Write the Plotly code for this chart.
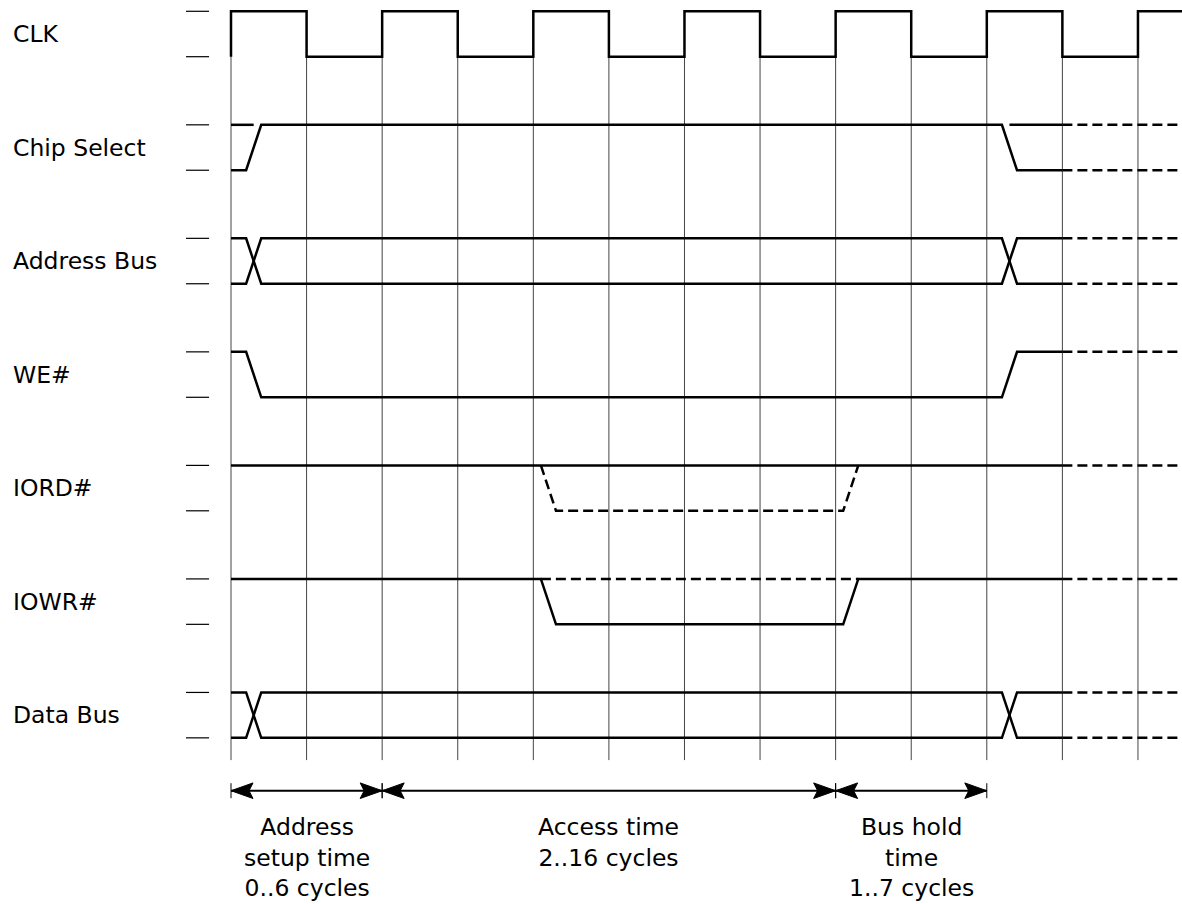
import plotly.graph_objects as go

# ---------------- data ----------------
signal_names = ["CLK", "Chip Select", "Address Bus", "WE#", "IORD#", "IOWR#", "Data Bus"]
ROW_GAP = 2.5          # vertical distance between signal rows (in level units)
T_END = 12.7           # diagram continues past the right edge

# CLK: level at each half-period boundary t = 0..12
clk_t = list(range(13))
clk_levels = [1, 0, 1, 0, 1, 0, 1, 0, 1, 0, 1, 0, 1]

# solid / dashed waveform pieces: (row, times, levels)
solid_pieces = [
    (1, [0, 0.2, 0.4, 10.2, 10.4, 11], [0, 0, 1, 1, 0, 0]),
    (1, [0, 0.3], [1, 1]),
    (1, [10.3, 11], [1, 1]),
    (2, [0, 0.2, 0.4, 10.2, 10.4, 11], [1, 1, 0, 0, 1, 1]),
    (2, [0, 0.2, 0.4, 10.2, 10.4, 11], [0, 0, 1, 1, 0, 0]),
    (3, [0, 0.2, 0.4, 10.2, 10.4, 11], [1, 1, 0, 0, 1, 1]),
    (4, [0, 11], [1, 1]),
    (5, [0, 4.1, 4.3, 8.1, 8.3, 11], [1, 1, 0, 0, 1, 1]),
    (6, [0, 0.2, 0.4, 10.2, 10.4, 11], [1, 1, 0, 0, 1, 1]),
    (6, [0, 0.2, 0.4, 10.2, 10.4, 11], [0, 0, 1, 1, 0, 0]),
]
dashed_pieces = [
    (1, [11, T_END], [1, 1]),
    (1, [11, T_END], [0, 0]),
    (2, [11, T_END], [1, 1]),
    (2, [11, T_END], [0, 0]),
    (3, [11, T_END], [1, 1]),
    (4, [4.1, 4.3, 8.1, 8.3], [1, 0, 0, 1]),
    (4, [11, T_END], [1, 1]),
    (5, [4.1, 8.3], [1, 1]),
    (5, [11, T_END], [1, 1]),
    (6, [11, T_END], [1, 1]),
    (6, [11, T_END], [0, 0]),
]

grid_t = list(range(13))

# timing spans (half-clock units) and their captions
span_start = [0, 2, 8]
span_end = [2, 8, 10]
span_labels = ["Address<br>setup time<br>0..6 cycles",
               "Access time<br>2..16 cycles",
               "Bus hold<br>time<br>1..7 cycles"]

# ---------------- geometry helpers ----------------
W, H = 1182, 904
X0 = 231.0     # pixel x of t = 0
Y0 = 56.7      # pixel y of level 0 in first row
PX_T = 75.58   # pixels per half-period
PX_Y = 45.41   # pixels per level unit


def ylev(row, level):
    return -row * ROW_GAP + level


def join(pieces):
    xs, ys = [], []
    for row, ts, lv in pieces:
        xs += list(ts) + [None]
        ys += [ylev(row, v) for v in lv] + [None]
    return xs, ys


fig = go.Figure()

# vertical grid
GRID_BOTTOM = -15.49
gx, gy = [], []
for t in grid_t:
    gx += [t, t, None]
    gy += [1, GRID_BOTTOM, None]
fig.add_trace(go.Scatter(x=gx, y=gy, mode="lines",
                         line=dict(color="#444444", width=1), hoverinfo="skip"))

# left level ticks
tx, ty = [], []
for r in range(len(signal_names)):
    for lv in (1, 0):
        tx += [-0.595, -0.29, None]
        ty += [ylev(r, lv), ylev(r, lv), None]
fig.add_trace(go.Scatter(x=tx, y=ty, mode="lines",
                         line=dict(color="black", width=1.2), hoverinfo="skip"))

# CLK square wave
cx, cy = [clk_t[0]], [ylev(0, 1 - clk_levels[0])]
for i, t in enumerate(clk_t):
    cx.append(t)
    cy.append(ylev(0, clk_levels[i]))
    t_next = clk_t[i + 1] if i + 1 < len(clk_t) else T_END
    cx.append(t_next)
    cy.append(ylev(0, clk_levels[i]))
fig.add_trace(go.Scatter(x=cx, y=cy, mode="lines",
                         line=dict(color="black", width=2.5), hoverinfo="skip"))

sx, sy = join(solid_pieces)
fig.add_trace(go.Scatter(x=sx, y=sy, mode="lines",
                         line=dict(color="black", width=2.5), hoverinfo="skip"))
dx, dy = join(dashed_pieces)
fig.add_trace(go.Scatter(x=dx, y=dy, mode="lines",
                         line=dict(color="black", width=2.5, dash="10px,5px"),
                         hoverinfo="skip"))

# timing arrows
ARROW_Y = -16.164
head_len = 22 / PX_T
head_half = 7.8 / PX_Y
notch = 4 / PX_T
tick_half = 7.5 / PX_Y
ax_, ay_ = [], []
kx, ky = [], []
hx, hy = [], []
for a, b in zip(span_start, span_end):
    ax_ += [a, b, None]
    ay_ += [ARROW_Y, ARROW_Y, None]
    for e in (a, b):
        kx += [e, e, None]
        ky += [ARROW_Y - tick_half, ARROW_Y + tick_half, None]
    for tip, d in ((a, 1), (b, -1)):
        hx += [tip, tip + d * head_len, tip + d * (head_len - notch),
               tip + d * head_len, tip, None]
        hy += [ARROW_Y, ARROW_Y + head_half, ARROW_Y, ARROW_Y - head_half,
               ARROW_Y, None]
fig.add_trace(go.Scatter(x=ax_, y=ay_, mode="lines",
                         line=dict(color="black", width=2), hoverinfo="skip"))
fig.add_trace(go.Scatter(x=kx, y=ky, mode="lines",
                         line=dict(color="black", width=1), hoverinfo="skip"))
fig.add_trace(go.Scatter(x=hx, y=hy, mode="lines", fill="toself",
                         fillcolor="black", line=dict(color="black", width=1),
                         hoverinfo="skip"))

FONT = dict(family="DejaVu Sans", size=23.5, color="black")
annotations = []
for r, name in enumerate(signal_names):
    annotations.append(dict(x=(10.5 - X0) / PX_T, y=ylev(r, 0.5), text=name,
                            showarrow=False, xanchor="left", yanchor="middle",
                            font=FONT, xref="x", yref="y"))
for a, b, lab in zip(span_start, span_end, span_labels):
    annotations.append(dict(x=(a + b) / 2, y=-16.60, text=lab, showarrow=False,
                            xanchor="center", yanchor="top", font=FONT,
                            xref="x", yref="y"))

fig.update_layout(
    width=W, height=H,
    margin=dict(l=0, r=0, t=0, b=0),
    paper_bgcolor="white", plot_bgcolor="white",
    showlegend=False,
    xaxis=dict(range=[(0 - X0) / PX_T, (W - X0) / PX_T], visible=False,
               fixedrange=True),
    yaxis=dict(range=[(Y0 - H) / PX_Y, Y0 / PX_Y], visible=False,
               fixedrange=True),
    annotations=annotations,
)

fig.write_html(
    "out.html",
    config={"displayModeBar": False, "staticPlot": True},
    post_script="document.body.style.margin='0px';"
                "document.body.style.overflow='hidden';",
)
